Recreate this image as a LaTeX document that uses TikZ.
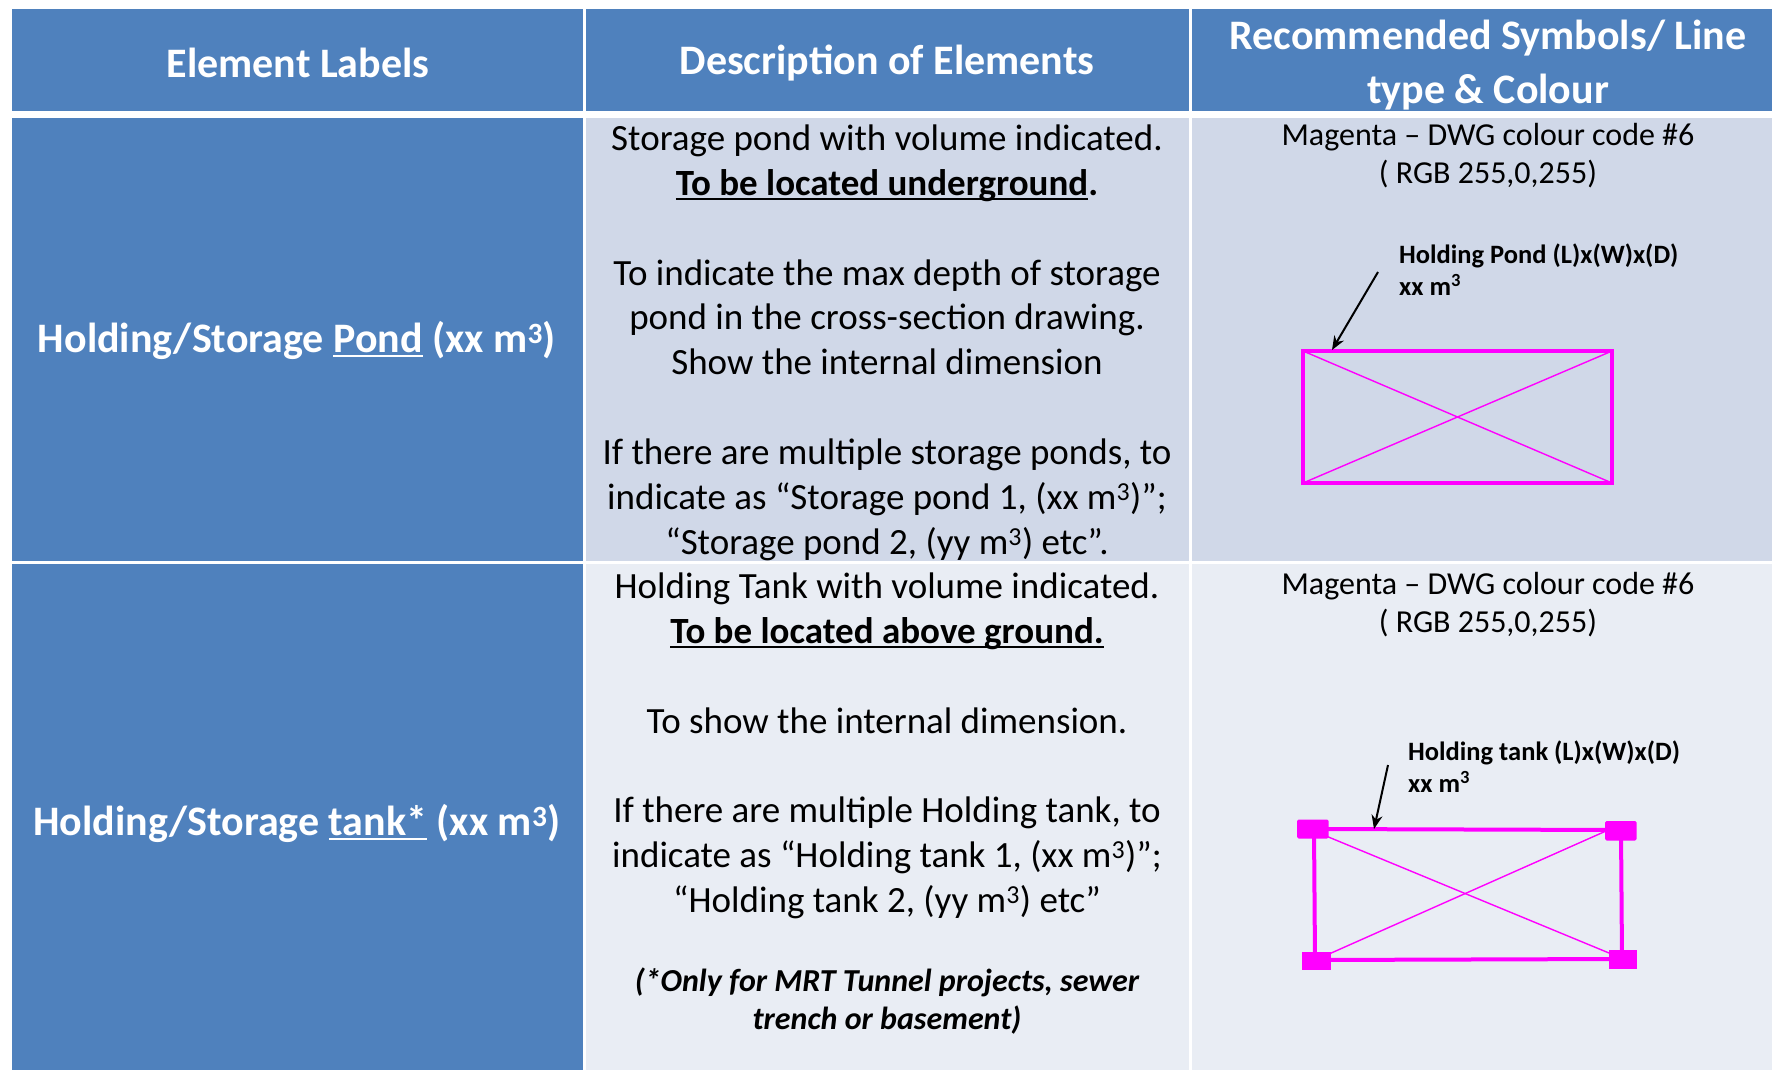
\documentclass[tikz,border=0pt]{standalone}
\usepackage{fontspec}
\setmainfont{Carlito}
\usetikzlibrary{arrows.meta}
\definecolor{hdrblue}{HTML}{4F81BD}
\definecolor{rowone}{HTML}{D0D8E8}
\definecolor{rowtwo}{HTML}{E9EDF4}
\definecolor{mag}{RGB}{255,0,255}
\newcommand\myul[1]{\leavevmode\setbox0=\hbox{#1}\rlap{\rule[-0.13em]{\wd0}{0.06em}}\box0\relax}
\tikzset{
  hdrtext/.style={text=white, font=\fontsize{42}{54}\selectfont\bfseries, align=center, inner sep=0pt},
  lbltext/.style={text=white, font=\fontsize{42}{50}\selectfont\bfseries, align=center, inner sep=0pt},
  desctext/.style={text=black, font=\fontsize{37}{44.9}\selectfont, align=center, inner sep=0pt},
  symtext/.style={text=black, font=\fontsize{32}{37.5}\selectfont, align=center, inner sep=0pt},
  calltext/.style={text=black, font=\fontsize{26.5}{32}\selectfont\bfseries, align=left, inner sep=0pt, anchor=west},
  thickmag/.style={draw=mag, line width=4pt},
  thinmag/.style={draw=mag, line width=1.4pt},
  callarrow/.style={draw=black, line width=2pt, -{Stealth[length=14pt,width=11pt]}},
}
\begin{document}
\begin{tikzpicture}[x=1pt,y=-1pt]
\useasboundingbox (0,0) rectangle (1772,1070);
\fill[white] (0,0) rectangle (1772,1070);
% header cells
\fill[hdrblue] (12,9) rectangle (582.5,110.7);
\fill[hdrblue] (585.5,9) rectangle (1189,110.7);
\fill[hdrblue] (1192.3,9) rectangle (1772,110.7);
% row 1
\fill[hdrblue] (12,118.3) rectangle (582.5,561);
\fill[rowone] (585.5,118.3) rectangle (1189,561);
\fill[rowone] (1192.3,118.3) rectangle (1772,561);
% row 2
\fill[hdrblue] (12,564) rectangle (582.5,1070);
\fill[rowtwo] (585.5,564) rectangle (1189,1070);
\fill[rowtwo] (1192.3,564) rectangle (1772,1070);

% header texts
\node[hdrtext] (h1) at (298,63) {Element Labels};
\node[hdrtext] (h2) at (887,63) {Description of Elements};
\node[hdrtext] (h3) at (1488,65) {Recommended Symbols/ Line\\type \& Colour};

% column 1 labels
\node[lbltext] (l1) at (297,340) {Holding/Storage \myul{Pond} (xx m\textsuperscript{3})};
\node[lbltext] (l2) at (297,823) {Holding/Storage \myul{tank*} (xx m\textsuperscript{3})};

% row 1 description
\node[desctext, anchor=north] (d1) at (887,124.5) {Storage pond with volume indicated.\\
\textbf{\myul{To be located underground}.}\\[44.9pt]
To indicate the max depth of storage\\
pond in the cross-section drawing.\\
Show the internal dimension\\[44.9pt]
If there are multiple storage ponds, to\\
indicate as “Storage pond 1, (xx m\textsuperscript{3})”;\\
“Storage pond 2, (yy m\textsuperscript{3}) etc”.};

% row 2 description
\node[desctext, anchor=north] (d2) at (887,572.5) {Holding Tank with volume indicated.\\
\textbf{\myul{To be located above ground.}}\\[44.9pt]
To show the internal dimension.\\[44.9pt]
If there are multiple Holding tank, to\\
indicate as “Holding tank 1, (xx m\textsuperscript{3})”;\\
“Holding tank 2, (yy m\textsuperscript{3}) etc”};
\node[desctext, font=\fontsize{32}{38.5}\selectfont\bfseries\itshape] (d3) at (887,1001) {(*Only for MRT Tunnel projects, sewer\\trench or basement)};

% column 3 texts
\node[symtext] (s1) at (1488,155.5) {Magenta – DWG colour code \#6\\( RGB 255,0,255)};
\node[symtext] (s2) at (1488,604.5) {Magenta – DWG colour code \#6\\( RGB 255,0,255)};

% pond symbol
\node[calltext] (c1) at (1399,270) {Holding Pond (L)x(W)x(D)\\xx m\textsuperscript{3}};
\coordinate (p1) at (1303,351);
\coordinate (p2) at (1612,351);
\coordinate (p3) at (1612,483);
\coordinate (p4) at (1303,483);
\draw[thickmag] (p1) -- (p2) -- (p3) -- (p4) -- cycle;
\draw[thinmag] (p1) -- (p3);
\draw[thinmag] (p4) -- (p2);
\coordinate (a1s) at (1378,272);
\coordinate (a1e) at (1332,350);
\draw[callarrow] (a1s) -- (a1e);

% tank symbol
\node[calltext] (c2) at (1408,767) {Holding tank (L)x(W)x(D)\\xx m\textsuperscript{3}};
\coordinate (t1) at (1313,829);
\coordinate (t2) at (1620,830);
\coordinate (t3) at (1621,959);
\coordinate (t4) at (1315,960);
\draw[thickmag] (t1) -- (t2);
\draw[thickmag] (t4) -- (t3);
\draw[thickmag] (1314,829) -- (1315,960);
\draw[thickmag] (1621,830) -- (1622,959);
\draw[thinmag] (1326,836) -- (1609,953);
\draw[thinmag] (1329,954) -- (1606,831);
\fill[mag, rounded corners=1.5pt] (1297,819.5) rectangle (1328.5,838.5);
\fill[mag, rounded corners=1.5pt] (1605,821) rectangle (1636.5,840.5);
\fill[mag] (1302,952) rectangle (1331,969.5);
\fill[mag] (1608.5,950) rectangle (1636.5,968.5);
\coordinate (a2s) at (1388,765);
\coordinate (a2e) at (1374,829);
\draw[callarrow] (a2s) -- (a2e);
\end{tikzpicture}
\end{document}
